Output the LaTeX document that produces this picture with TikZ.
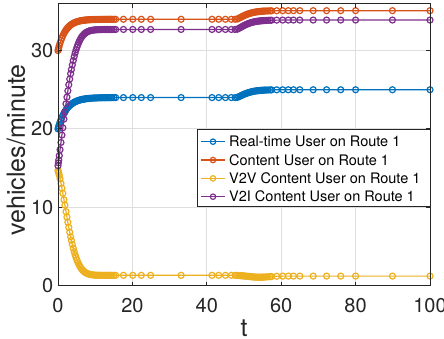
\documentclass[tikz,border=0pt]{standalone}
\usepackage{fontspec}
\setmainfont{TeX Gyre Heros}
\definecolor{cblue}{rgb}{0,0.447,0.741}
\definecolor{corange}{rgb}{0.85,0.325,0.098}
\definecolor{cyellow}{rgb}{0.929,0.694,0.125}
\definecolor{cpurple}{rgb}{0.494,0.184,0.556}
\definecolor{caxis}{rgb}{0.15,0.15,0.15}
\definecolor{cgrid}{rgb}{0.87,0.87,0.87}
\pgfmathdeclarefunction{fa}{1}{\pgfmathparse{exp(-min(12,0.125*#1+0.05*#1*#1))}}
\pgfmathdeclarefunction{sb}{1}{\pgfmathparse{1-exp(-min(12,(max(#1-48,0.01)/3.2)^1.3))}}
\pgfmathdeclarefunction{gs}{3}{\pgfmathparse{exp(-min(12,((#1-#2)/#3)*((#1-#2)/#3)))}}
\pgfmathdeclarefunction{fb}{1}{\pgfmathparse{24-4*exp(-min(12,#1/2.3))+1.0*sb(#1)}}
\pgfmathdeclarefunction{fo}{1}{\pgfmathparse{34-4*exp(-min(12,#1/2.0))+1.1*sb(#1)}}
\pgfmathdeclarefunction{fy}{1}{\pgfmathparse{1.3+13.4*fa(#1)-0.15*gs(#1,54,3.5)-0.1*sb(#1)}}
\pgfmathdeclarefunction{fp}{1}{\pgfmathparse{32.7-4*exp(-min(12,#1/2.0))-13.4*fa(#1)+1.2*sb(#1)}}
\def\tlist{0,0.1,0.2,0.35,0.55,0.8,1.05,1.3,1.6,1.85,2.15,2.4,2.65,2.9,3.15,3.4,3.6,3.85,4.1,4.35,4.6,4.85,5.1,5.35,5.6,5.85,6.1,6.35,6.6,6.85,7.1,7.35,7.6,7.9,8.2,8.5,8.8,9.1,9.45,9.8,10.15,10.5,10.9,11.3,11.7,12.1,12.5,12.9,13.3,13.7,14.1,14.5,15.0,15.5,17.6,20.1,22.4,24.9,33.1,41.4,43.2,45.0,46.6,47.6,48.2,48.6,49.0,49.3,49.6,49.9,50.2,50.5,50.8,51.1,51.4,51.7,52.0,52.3,52.6,52.9,53.2,53.5,53.8,54.1,54.4,54.7,55.0,55.3,55.6,56.0,56.5,57.0,57.4,58.8,60.4,61.9,63.3,65.0,68.6,72.2,76.0,80.0,89.9,100}
\tikzset{
  series/.style={line width=1.2pt},
  markc/.style={line width=1.2pt},
  tpts/.style={samples at={0,0.1,0.2,0.35,0.55,0.8,1.05,1.3,1.6,1.85,2.15,2.4,2.65,2.9,3.15,3.4,3.6,3.85,4.1,4.35,4.6,4.85,5.1,5.35,5.6,5.85,6.1,6.35,6.6,6.85,7.1,7.35,7.6,7.9,8.2,8.5,8.8,9.1,9.45,9.8,10.15,10.5,10.9,11.3,11.7,12.1,12.5,12.9,13.3,13.7,14.1,14.5,15.0,15.5,17.6,20.1,22.4,24.9,33.1,41.4,43.2,45.0,46.6,47.6,48.2,48.6,49.0,49.3,49.6,49.9,50.2,50.5,50.8,51.1,51.4,51.7,52.0,52.3,52.6,52.9,53.2,53.5,53.8,54.1,54.4,54.7,55.0,55.3,55.6,56.0,56.5,57.0,57.4,58.8,60.4,61.9,63.3,65.0,68.6,72.2,76.0,80.0,89.9,100}, variable=\t},
  ticklab/.style={font=\fontsize{20}{24}\selectfont, text=caxis, inner sep=0pt},
  axlab/.style={font=\fontsize{25}{30}\selectfont, text=caxis, inner sep=0pt},
  legtext/.style={font=\fontsize{14.5}{17}\selectfont, text=black, inner sep=0pt, anchor=west},
  gridline/.style={cgrid, line width=0.8pt},
  axisline/.style={caxis, line width=0.9pt},
  legline/.style={line width=1.2pt},
}
\begin{document}
\begin{tikzpicture}[x=1pt,y=-1pt]
\useasboundingbox (0,0) rectangle (444,339);
\fill[white] (0,0) rectangle (444,339);
\begin{scope}[shift={(58pt,-285.5pt)}, x=3.72pt, y=7.83pt]
  % grid
  \foreach \gx in {20,40,60,80} \draw[gridline] (\gx,0) -- (\gx,36);
  \foreach \gy in {10,20,30} \draw[gridline] (0,\gy) -- (100,\gy);
  % series: line, then circle markers
  \draw[cblue, series] plot[tpts] (\t,{fb(\t)});
  \foreach \t in \tlist \draw[cblue, markc] (\t,{fb(\t)}) circle (3pt);
  \draw[corange, series] plot[tpts] (\t,{fo(\t)});
  \foreach \t in \tlist \draw[corange, markc] (\t,{fo(\t)}) circle (3pt);
  \draw[cyellow, series] plot[tpts] (\t,{fy(\t)});
  \foreach \t in \tlist \draw[cyellow, markc] (\t,{fy(\t)}) circle (3pt);
  \draw[cpurple, series] plot[tpts] (\t,{fp(\t)});
  \foreach \t in \tlist \draw[cpurple, markc] (\t,{fp(\t)}) circle (3pt);
  % axes box
  \draw[axisline] (0,0) rectangle (100,36);
  \foreach \gx in {0,20,40,60,80,100} {
    \draw[axisline] (\gx,0) -- ++(0,4pt);
    \draw[axisline] (\gx,36) -- ++(0,-4pt);
  }
  \foreach \gy in {0,10,20,30} {
    \draw[axisline] (0,\gy) -- ++(4pt,0);
    \draw[axisline] (100,\gy) -- ++(-4pt,0);
  }
  % tick labels
  \foreach \gx [count=\i] in {0,20,40,60,80,100}
    \node[ticklab, anchor=north] (xt\i) at ([yshift=-12.5pt]\gx,0) {\gx};
  \foreach \gy [count=\i] in {0,10,20,30}
    \node[ticklab, anchor=east] (yt\i) at ([xshift=-4.5pt]0,\gy) {\gy};
\end{scope}
% axis labels
\node[axlab, anchor=base] (xlab) at (244,336) {t};
\node[axlab, rotate=90] (ylab) at (16,150) {vehicles/minute};
% legend
\node[draw=caxis, fill=white, line width=0.8pt, minimum width=233pt, minimum height=77pt, inner sep=0pt, anchor=north west] (leg) at (197,129) {};
\foreach \c/\txt [count=\i] in {cblue/Real-time User on Route 1, corange/Content User on Route 1, cyellow/V2V Content User on Route 1, cpurple/V2I Content User on Route 1} {
  \coordinate (la\i) at (201,{141.7+18.33*(\i-1)});
  \coordinate (lb\i) at (225,{141.7+18.33*(\i-1)});
  \coordinate (lm\i) at (213,{141.7+18.33*(\i-1)});
  \draw[\c, legline] (la\i) -- (lb\i);
  \draw[\c, legline] (lm\i) circle (2.7pt);
  \node[legtext] (lt\i) at (229,{141.7+18.33*(\i-1)}) {\txt};
}
\end{tikzpicture}
\end{document}
